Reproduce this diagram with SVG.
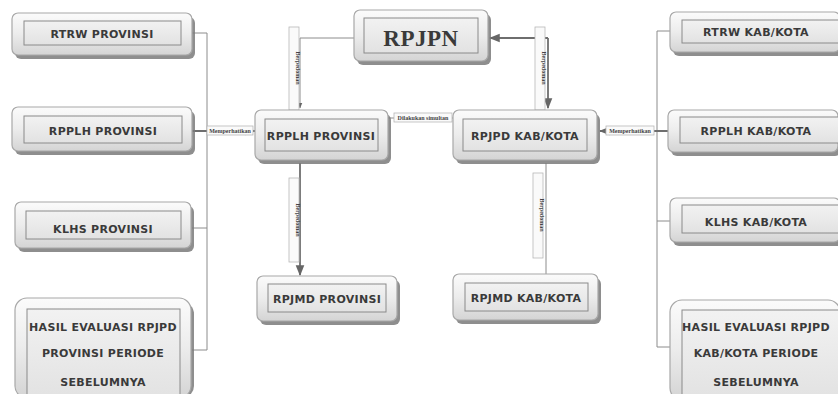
<svg xmlns="http://www.w3.org/2000/svg" width="838" height="394" viewBox="0 0 838 394">
<defs>
<linearGradient id="g" x1="0" y1="0" x2="0" y2="1"><stop offset="0" stop-color="#fbfbfb"/><stop offset="0.5" stop-color="#ececec"/><stop offset="1" stop-color="#d4d4d4"/></linearGradient>
<linearGradient id="gi" x1="0" y1="0" x2="0" y2="1"><stop offset="0" stop-color="#f2f2f2"/><stop offset="1" stop-color="#e2e2e2"/></linearGradient>
<marker id="ah" viewBox="0 0 10 10" refX="9" refY="5" markerWidth="6" markerHeight="6" orient="auto-start-reverse"><path d="M0,1 L10,5 L0,9 z" fill="#666"/></marker>
</defs>
<style>
.sh{fill:#7a7a7a;opacity:0.85}
.ob{fill:url(#g);stroke:#a8a8a8;stroke-width:1.2}
.ib{fill:url(#gi);stroke:#8a8a8a;stroke-width:1}
.t{font-family:"DejaVu Sans",sans-serif;font-weight:bold;font-size:11px;fill:#3a3a3a;text-anchor:middle;letter-spacing:0.3px}
.tb{font-family:"Liberation Serif",serif;font-weight:bold;font-size:23px;fill:#3a3a3a;text-anchor:middle;letter-spacing:0.5px}
.ln{stroke:#8c8c8c;stroke-width:1;fill:none}
.lk{stroke:#6e6e6e;stroke-width:1.8;fill:none}
.lb{fill:#fafafa;stroke:#b8b8b8;stroke-width:0.8}
.lt{font-family:"Liberation Serif",serif;font-weight:bold;font-size:6px;fill:#444;text-anchor:middle}
</style>
<rect width="838" height="394" fill="#ffffff"/>

<g id="connectors">
<!-- left bus -->
<path class="ln" d="M192,33 H207 V350 H192"/>
<path class="ln" d="M192,228 H207"/>
<path class="lk" d="M192,131 H255" marker-end="url(#ah)"/>
<rect class="lb" x="207" y="126" width="46" height="9"/>
<text class="lt" x="230" y="133">Memperhatikan</text>
<!-- right bus -->
<path class="ln" d="M670,31 H657 V347 H670"/>
<path class="ln" d="M670,221 H657"/>
<path class="lk" d="M668,131 H600" marker-end="url(#ah)"/>
<rect class="lb" x="606" y="126" width="48" height="9"/>
<text class="lt" x="630" y="133">Memperhatikan</text>
<!-- RPJPN to center -->
<path class="ln" d="M355,38 H300 V108" marker-end="url(#ah)"/>
<rect class="lb" x="289" y="27" width="10" height="83"/>
<text class="lt" transform="translate(295.5,68) rotate(90)">Berpedoman</text>
<path class="lk" d="M548,38 H490" marker-end="url(#ah)"/>
<path class="lk" d="M548,38 V108" marker-end="url(#ah)"/>
<rect class="lb" x="535" y="27" width="10" height="83"/>
<text class="lt" transform="translate(541.5,68) rotate(90)">Berpedoman</text>
<!-- simultan -->
<path class="ln" d="M388,118 H453"/>
<rect class="lb" x="394" y="113" width="58" height="9"/>
<text class="lt" x="423" y="120">Dilakukan simultan</text>
<!-- down -->
<path class="lk" d="M300,163 V275" marker-end="url(#ah)"/>
<rect class="lb" x="289" y="178" width="10" height="84"/>
<text class="lt" transform="translate(295.5,220) rotate(90)">Berpedoman</text>
<path class="ln" d="M546,163 V275"/>
<rect class="lb" x="533" y="173" width="10" height="85"/>
<text class="lt" transform="translate(539.5,215) rotate(90)">Berpedoman</text>
</g>

<g id="rtrw-prov">
<rect class="sh" x="15" y="17" width="180" height="42" rx="6"/>
<rect class="ob" x="12" y="13" width="180" height="42" rx="6"/>
<rect class="ib" x="24" y="21" width="157" height="24"/>
<text class="t" x="102" y="38">RTRW PROVINSI</text>
</g>
<g id="rpplh-prov-l">
<rect class="sh" x="15" y="111" width="180" height="44" rx="6"/>
<rect class="ob" x="12" y="107" width="180" height="44" rx="6"/>
<rect class="ib" x="24" y="116" width="158" height="27"/>
<text class="t" x="103" y="135">RPPLH PROVINSI</text>
</g>
<g id="klhs-prov">
<rect class="sh" x="18" y="206" width="176" height="46" rx="6"/>
<rect class="ob" x="15" y="202" width="176" height="46" rx="6"/>
<rect class="ib" x="26" y="211" width="155" height="28"/>
<text class="t" x="103" y="233">KLHS PROVINSI</text>
</g>
<g id="hasil-prov">
<rect class="sh" x="18" y="302" width="176" height="96" rx="12"/>
<rect class="ob" x="15" y="298" width="176" height="100" rx="12"/>
<rect class="ib" x="27" y="309" width="153" height="90"/>
<text class="t" x="103" y="331">HASIL EVALUASI RPJPD</text>
<text class="t" x="103" y="357">PROVINSI PERIODE</text>
<text class="t" x="103" y="386">SEBELUMNYA</text>
</g>

<g id="rpjpn">
<rect class="sh" x="357" y="14" width="134" height="51" rx="6"/>
<rect class="ob" x="354" y="10" width="134" height="51" rx="6"/>
<rect class="ib" x="364" y="18" width="114" height="35"/>
<text class="tb" x="421" y="46">RPJPN</text>
</g>
<g id="rpplh-prov-c">
<rect class="sh" x="258" y="114" width="133" height="50" rx="6"/>
<rect class="ob" x="255" y="110" width="133" height="50" rx="6"/>
<rect class="ib" x="265" y="119" width="113" height="32"/>
<text class="t" x="321" y="140">RPPLH PROVINSI</text>
</g>
<g id="rpjpd-kab">
<rect class="sh" x="456" y="114" width="144" height="50" rx="6"/>
<rect class="ob" x="453" y="110" width="144" height="50" rx="6"/>
<rect class="ib" x="463" y="119" width="124" height="32"/>
<text class="t" x="525" y="140">RPJPD KAB/KOTA</text>
</g>
<g id="rpjmd-prov">
<rect class="sh" x="260" y="280" width="140" height="45" rx="6"/>
<rect class="ob" x="257" y="276" width="140" height="45" rx="6"/>
<rect class="ib" x="268" y="284" width="118" height="28"/>
<text class="t" x="327" y="303">RPJMD PROVINSI</text>
</g>
<g id="rpjmd-kab">
<rect class="sh" x="456" y="278" width="145" height="46" rx="6"/>
<rect class="ob" x="453" y="274" width="145" height="46" rx="6"/>
<rect class="ib" x="465" y="283" width="123" height="28"/>
<text class="t" x="526" y="302">RPJMD KAB/KOTA</text>
</g>

<g id="rtrw-kab">
<rect class="sh" x="673" y="16" width="170" height="40" rx="6"/>
<rect class="ob" x="670" y="12" width="170" height="40" rx="6"/>
<rect class="ib" x="682" y="20" width="160" height="23"/>
<text class="t" x="756" y="36">RTRW KAB/KOTA</text>
</g>
<g id="rpplh-kab">
<rect class="sh" x="671" y="114" width="170" height="42" rx="6"/>
<rect class="ob" x="668" y="110" width="170" height="42" rx="6"/>
<rect class="ib" x="680" y="117" width="160" height="26"/>
<text class="t" x="756" y="135">RPPLH KAB/KOTA</text>
</g>
<g id="klhs-kab">
<rect class="sh" x="673" y="202" width="170" height="44" rx="6"/>
<rect class="ob" x="670" y="198" width="170" height="44" rx="6"/>
<rect class="ib" x="682" y="205" width="160" height="28"/>
<text class="t" x="756" y="226">KLHS KAB/KOTA</text>
</g>
<g id="hasil-kab">
<rect class="sh" x="673" y="304" width="170" height="96" rx="12"/>
<rect class="ob" x="670" y="300" width="170" height="100" rx="12"/>
<rect class="ib" x="682" y="310" width="160" height="90"/>
<text class="t" x="756" y="331">HASIL EVALUASI RPJPD</text>
<text class="t" x="756" y="357">KAB/KOTA PERIODE</text>
<text class="t" x="756" y="386">SEBELUMNYA</text>
</g>
</svg>
